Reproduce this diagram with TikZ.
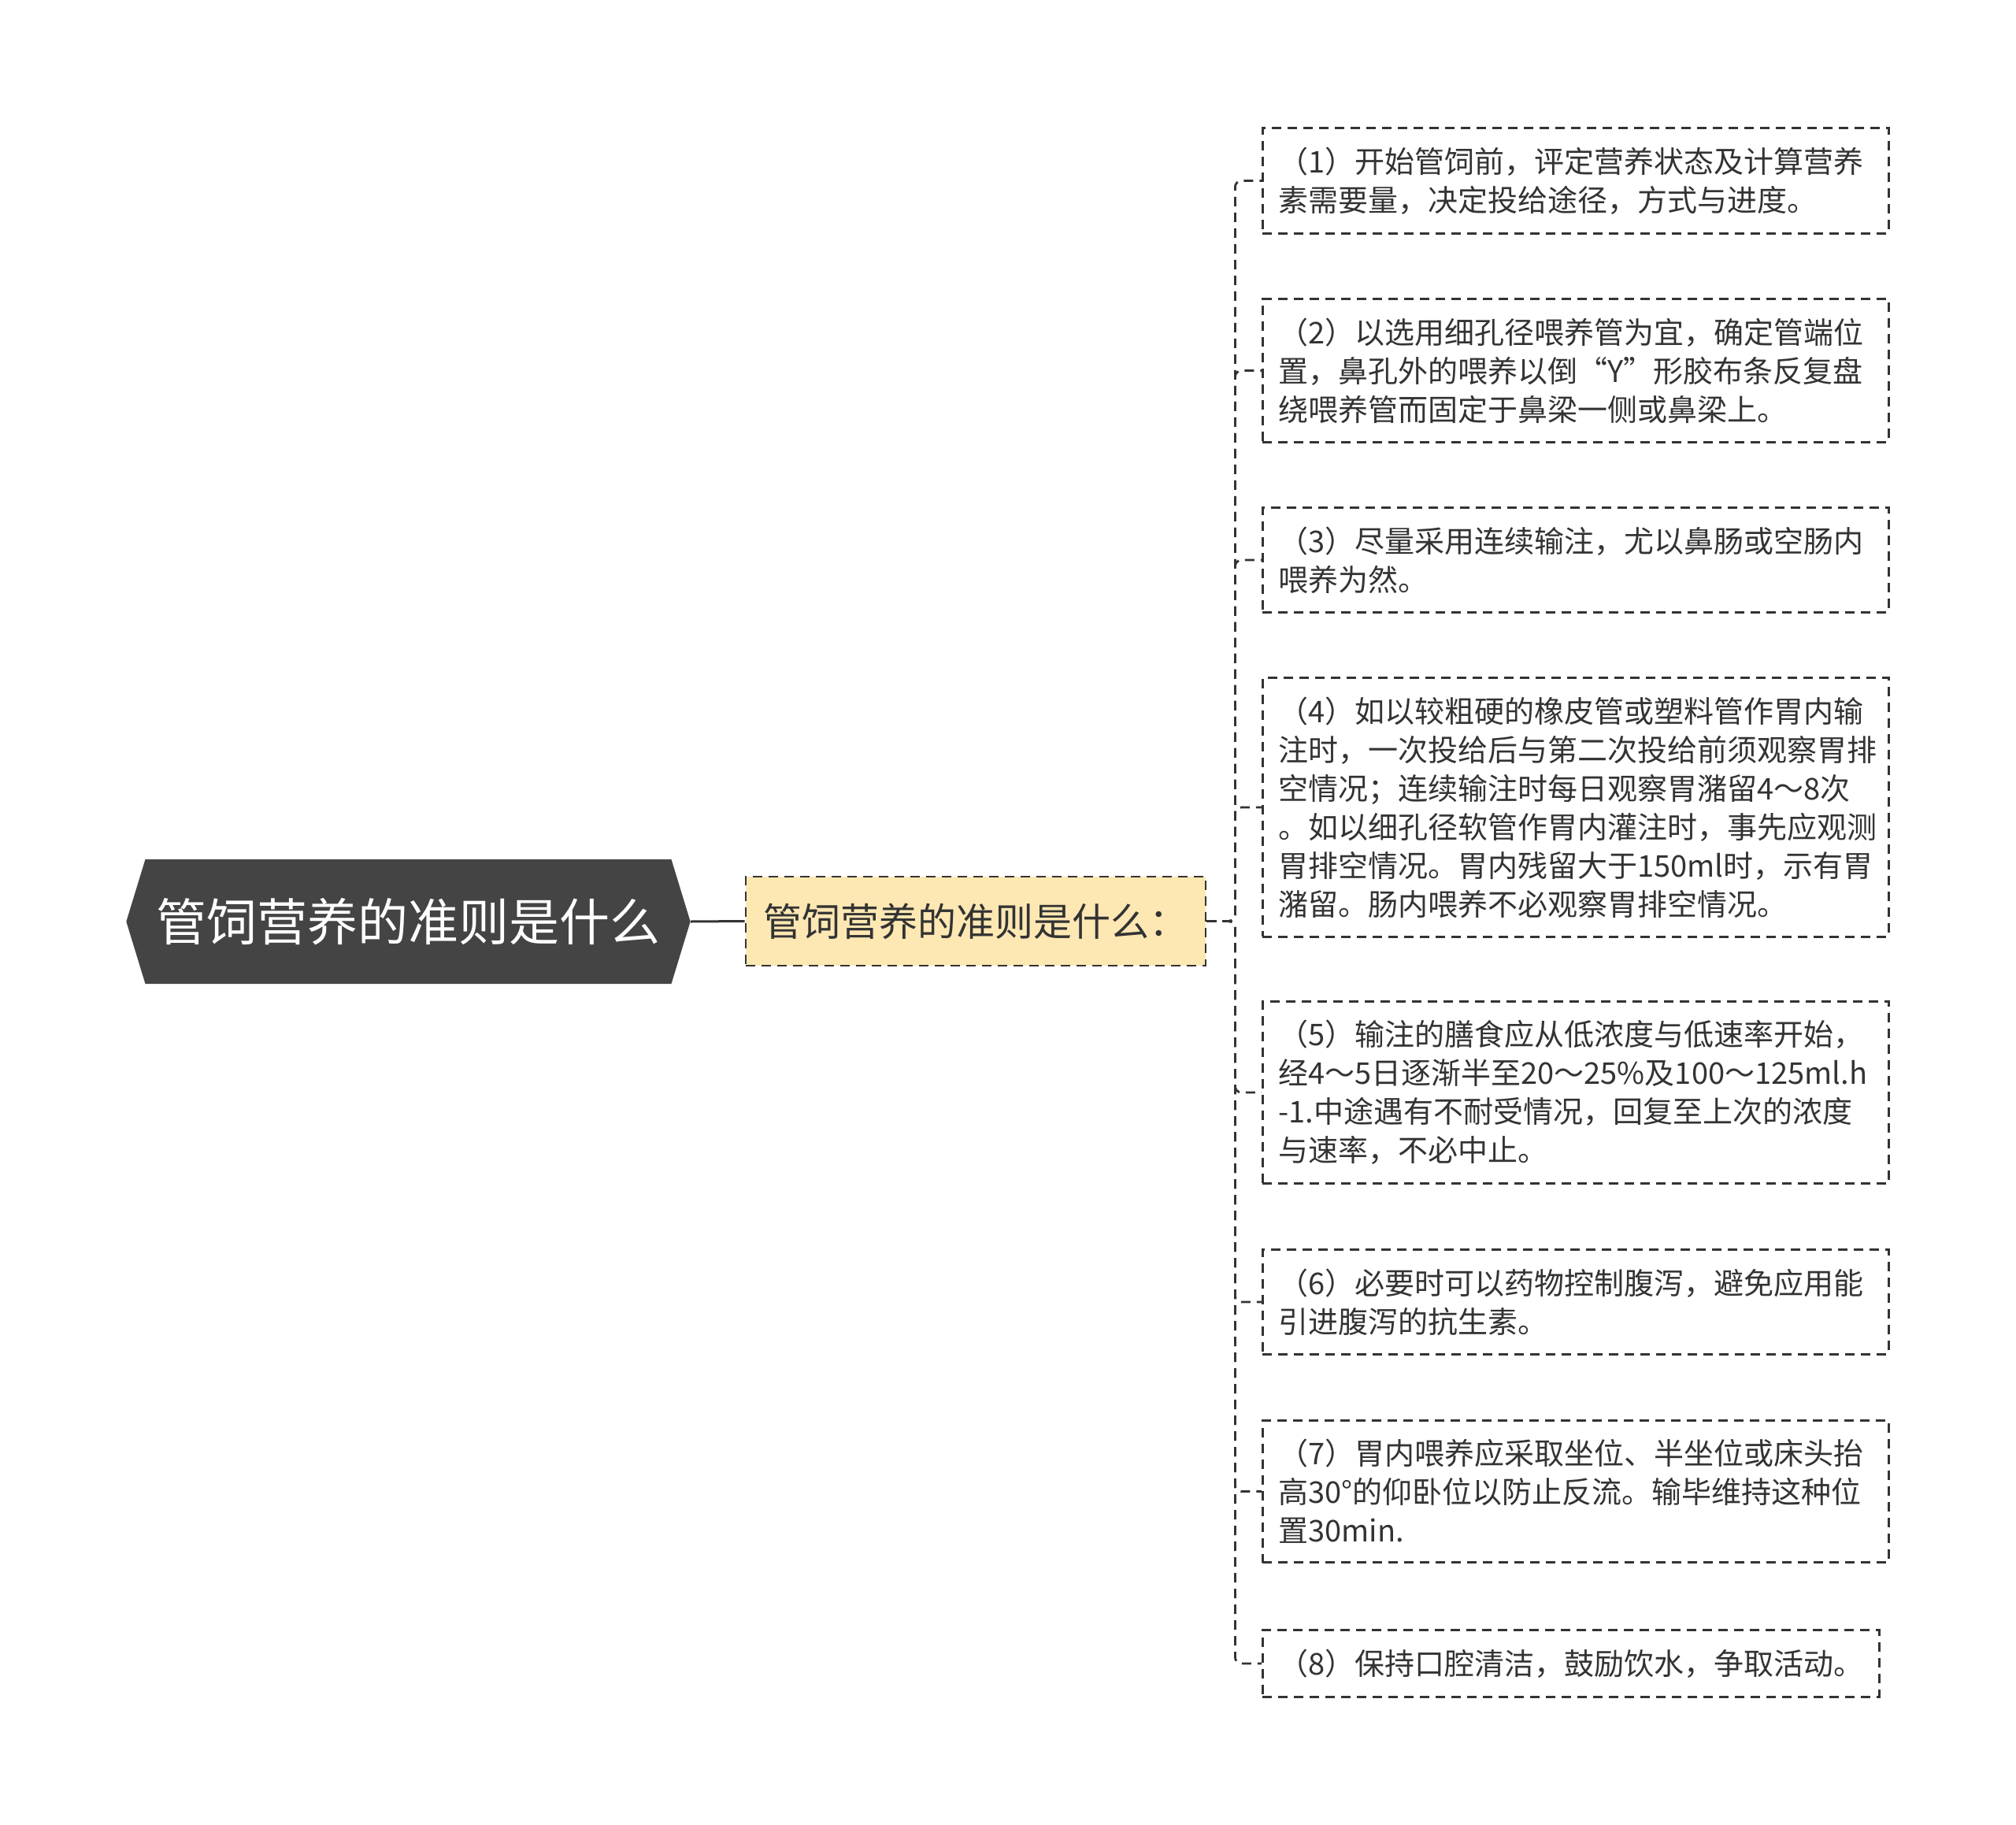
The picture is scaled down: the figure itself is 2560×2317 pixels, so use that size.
\documentclass[tikz,border=0pt]{standalone}
\usepackage{fontspec}
\setmainfont{Noto Sans CJK SC}
\usetikzlibrary{shapes.symbols}

\definecolor{rootgray}{HTML}{444444}
\definecolor{subyellow}{HTML}{FDE8B3}
\definecolor{linegray}{HTML}{333333}

\tikzset{
  dashline/.style={draw=linegray, line width=1.4pt, dash pattern=on 6pt off 4pt},
  rootnode/.style={shape=signal, signal to=west and east, signal pointer angle=146,
    fill=rootgray, text=white, font=\fontsize{32}{38}\selectfont,
    minimum height=79pt, inner xsep=7pt},
  subnode/.style={dashline, fill=subyellow, text=linegray,
    font=\fontsize{24.5}{29}\selectfont, minimum width=292pt, minimum height=56.5pt},
  leafone/.style={dashline, anchor=west, text=linegray, inner xsep=10pt, inner ysep=12pt,
    font=\fontsize{19}{24.5}\selectfont},
  leaf/.style={leafone, align=left, text width=377.5pt},
  conn/.style={dashline, rounded corners=4pt}
}

\begin{document}
\begin{tikzpicture}[x=0.5pt, y=-0.5pt]
\useasboundingbox (0,0) rectangle (2560,2317);

% Root and first level
\node[rootnode] (root) at (518.5,1170) {管饲营养的准则是什么};
\node[subnode] (sub) at (1239,1169.5) {管饲营养的准则是什么：};
\draw[linegray, line width=1.5pt] (root.east) -- (sub.west);

% Leaves
\node[leaf] (leaf1) at (1602,229.5) {（1）开始管饲前，评定营养状态及计算营养\\素需要量，决定投给途径，方式与进度。};
\node[leaf] (leaf2) at (1602,470.5) {（2）以选用细孔径喂养管为宜，确定管端位\\置，鼻孔外的喂养以倒“Y”形胶布条反复盘\\绕喂养管而固定于鼻梁一侧或鼻梁上。};
\node[leaf] (leaf3) at (1602,711) {（3）尽量采用连续输注，尤以鼻肠或空肠内\\喂养为然。};
\node[leaf] (leaf4) at (1602,1025) {（4）如以较粗硬的橡皮管或塑料管作胃内输\\注时，一次投给后与第二次投给前须观察胃排\\空情况；连续输注时每日观察胃潴留4～8次\\。如以细孔径软管作胃内灌注时，事先应观测\\胃排空情况。胃内残留大于150ml时，示有胃\\潴留。肠内喂养不必观察胃排空情况。};
\node[leaf] (leaf5) at (1602,1387) {（5）输注的膳食应从低浓度与低速率开始，\\经4～5日逐渐半至20～25\%及100～125ml.h\\-1.中途遇有不耐受情况，回复至上次的浓度\\与速率，不必中止。};
\node[leaf] (leaf6) at (1602,1653) {（6）必要时可以药物控制腹泻，避免应用能\\引进腹泻的抗生素。};
\node[leaf] (leaf7) at (1602,1893.5) {（7）胃内喂养应采取坐位、半坐位或床头抬\\高30°的仰卧位以防止反流。输毕维持这种位\\置30min.};
\node[leafone] (leaf8) at (1602,2112) {（8）保持口腔清洁，鼓励饮水，争取活动。};

% Connectors
\foreach \i in {1,...,8}
  \draw[conn] (sub.east) -- ++(18pt,0) |- (leaf\i.west);
\end{tikzpicture}
\end{document}
